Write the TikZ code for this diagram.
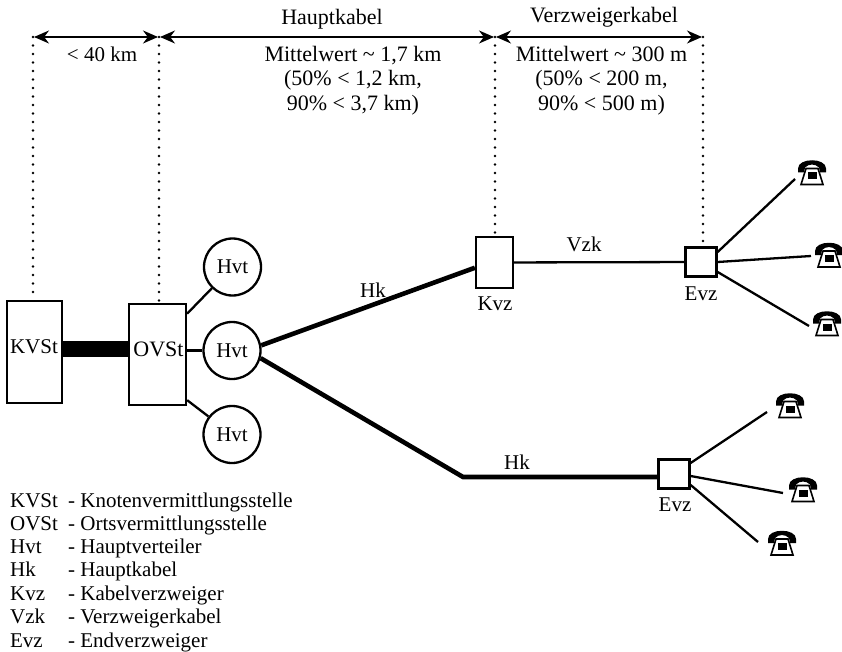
\documentclass[tikz,border=0pt]{standalone}
\usepackage{fontspec}
\setmainfont{Liberation Serif}
\usetikzlibrary{arrows.meta}
\tikzset{
  telefon/.pic={
    \fill[black] (-14,-3) .. controls (-14,-14) and (14,-14) .. (14,-3) -- (14,1) -- (8,1) -- (7,-4)
       .. controls (3,-8) and (-3,-8) .. (-7,-4) -- (-8,1) -- (-14,1) -- cycle;
    \draw[black,line width=1.6pt,fill=white] (-6,-3) -- (6,-3) -- (11,13) -- (-11,13) -- cycle;
    \fill[black] (-4.5,1) rectangle (4.5,8);
  }
}
\begin{document}
\begin{tikzpicture}[x=1pt,y=-1pt,line width=2.3pt,node distance=3cm,
    font=\fontsize{21}{24}\selectfont,
    box/.style={draw,fill=white,inner sep=0pt},
    hvt/.style={draw,fill=white,circle,minimum size=57pt,inner sep=0pt},
    evz/.style={box,minimum width=31pt,minimum height=29pt},
    mass/.style={{Stealth[length=15pt,width=13pt]}-{Stealth[length=15pt,width=13pt]},line width=1.6pt,shorten <=1pt,shorten >=1pt},
    punkte/.style={line width=2.6pt,line cap=round,dash pattern=on 0pt off 8.5pt},
    dick/.style={line width=4.6pt},
    oben/.style={font=\fontsize{22}{24.5}\selectfont},
    legende/.style={anchor=west,inner sep=0pt}]
  \useasboundingbox (0,0) rectangle (842,652);

  \node[box,minimum width=55pt,minimum height=102pt] (KVSt) at (34.5,352) {};
  \node[box,minimum width=57pt,minimum height=101pt] (OVSt) at (157.5,354.5) {};
  \node (KVStT) at (34,347) {KVSt};
  \node[oben] (OVStT) at (158.5,349) {OVSt};
  \node[hvt] (HvtA) at (232.5,267) {Hvt};
  \node[hvt] (HvtB) at (232,350.5) {Hvt};
  \node[hvt] (HvtC) at (232,434.5) {Hvt};
  \node[box,minimum width=37pt,minimum height=51pt] (Kvz) at (494.5,262.5) {};
  \node[evz] (EvzA) at (701,262) {};
  \node[evz] (EvzB) at (674,474) {};
  \coordinate (Knick) at (463,477);

  % Masspfeile oben
  \coordinate (MassA) at (33,37);
  \coordinate (MassB) at (159,37);
  \coordinate (MassC) at (495,37);
  \coordinate (MassD) at (703,37);
  \draw[mass] (MassA) -- (MassB);
  \draw[mass] (MassB) -- (MassC);
  \draw[mass] (MassC) -- (MassD);
  \draw[punkte] (MassA) -- (MassA |- KVSt.north);
  \draw[punkte] (MassB) -- (MassB |- OVSt.north);
  \draw[punkte] (MassC) -- (MassC |- Kvz.north);
  \draw[punkte] (MassD) -- (MassD |- EvzA.north);

  \node (Kurz) at (102,54) {< 40 km};
  \node[oben] (Haupt) at (332,19) {Hauptkabel};
  \node[oben] (Verzw) at (604,17) {Verzweigerkabel};
  \node[oben,align=center] (HauptW) at (353,80.5) {Mittelwert \textasciitilde{} 1,7 km\\(50\% < 1,2 km,\\90\% < 3,7 km)};
  \node[oben,align=center] (VerzwW) at (601.5,80.5) {Mittelwert \textasciitilde{} 300 m\\(50\% < 200 m,\\90\% < 500 m)};

  % Kabel
  \draw[line width=16.5pt] (KVSt.east |- 0,349) -- (OVSt.west |- 0,349);
  \draw (OVSt.54) -- (HvtA);
  \draw (OVSt.east |- HvtB) -- (HvtB);
  \draw (OVSt.-57) -- (HvtC);
  \draw[dick] (HvtB.10) -- (Kvz.195);
  \draw[dick] (HvtB.-15) -- (Knick) -- (EvzB.west |- Knick);
  \draw (Kvz) -- (EvzA);

  \node (HkA) at (373,290) {Hk};
  \node (VzkL) at (584,244) {Vzk};
  \node (KvzL) at (495,304) {Kvz};
  \node (EvzAL) at (701,294) {Evz};
  \node (EvzBL) at (675,505) {Evz};
  \node (HkB) at (517,462) {Hk};

  % Telefone
  \coordinate (TelA) at (795,179);
  \coordinate (TelB) at (811,256);
  \coordinate (TelC) at (809,326);
  \coordinate (TelD) at (767,412);
  \coordinate (TelE) at (783,493);
  \coordinate (TelF) at (758,542);
  \draw (EvzA.east) ++(0,-10) -- (TelA);
  \draw (EvzA.east) -- (TelB);
  \draw (EvzA.east) ++(0,10) -- (TelC);
  \draw (EvzB.east) ++(0,-11) -- (TelD);
  \draw (EvzB.east) ++(0,2) -- (TelE);
  \draw (EvzB.east) ++(0,11) -- (TelF);
  \pic at (812,171.5) {telefon};
  \pic at (829,254) {telefon};
  \pic at (827,322.5) {telefon};
  \pic at (790,404.5) {telefon};
  \pic at (803,488.5) {telefon};
  \pic at (782,542) {telefon};

  % Legende
  \node[legende] (LegA) at (9,502) {\makebox[58pt][l]{KVSt}- Knotenvermittlungsstelle};
  \node[legende] (LegB) at (9,525) {\makebox[58pt][l]{OVSt}- Ortsvermittlungsstelle};
  \node[legende] (LegC) at (9,548) {\makebox[58pt][l]{Hvt}- Hauptverteiler};
  \node[legende] (LegD) at (9,571) {\makebox[58pt][l]{Hk}- Hauptkabel};
  \node[legende] (LegE) at (9,595) {\makebox[58pt][l]{Kvz}- Kabelverzweiger};
  \node[legende] (LegF) at (9,618) {\makebox[58pt][l]{Vzk}- Verzweigerkabel};
  \node[legende] (LegG) at (9,642) {\makebox[58pt][l]{Evz}- Endverzweiger};
\end{tikzpicture}
\end{document}
